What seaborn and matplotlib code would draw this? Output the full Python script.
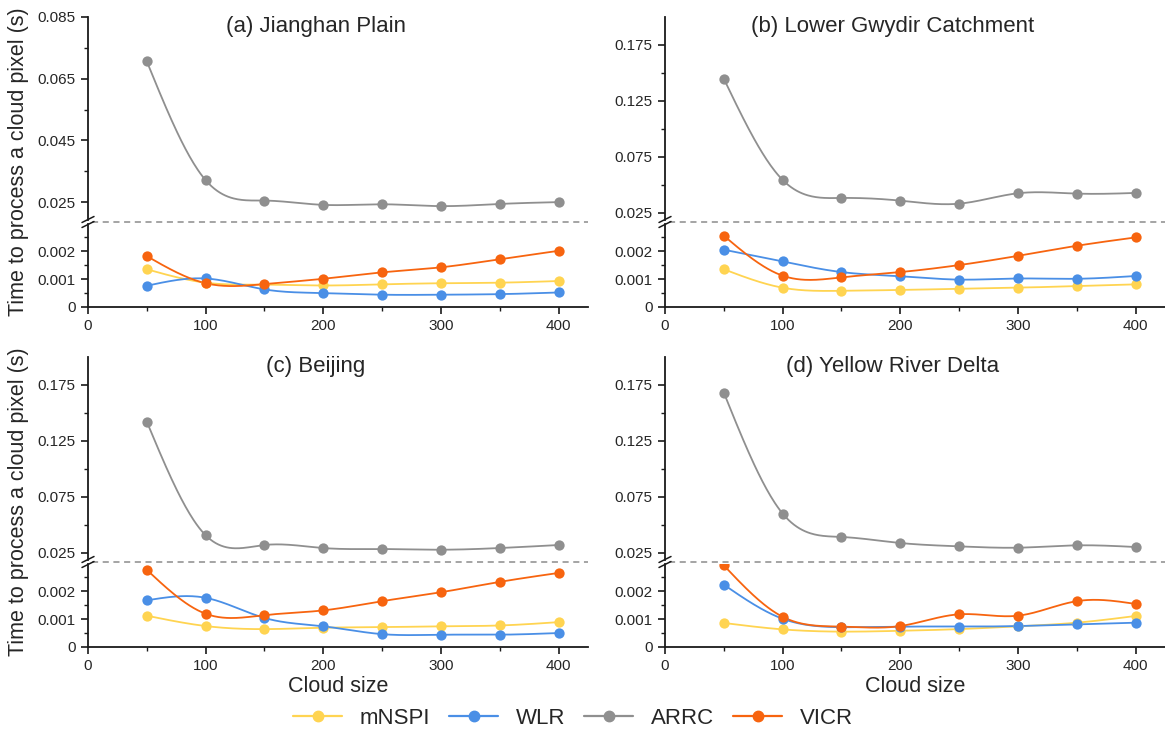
import numpy as np
import pandas as pd
import matplotlib
matplotlib.use("Agg")
import matplotlib.pyplot as plt
from matplotlib.lines import Line2D
import seaborn as sns

# ---------------- data ----------------
cloud_size = [50, 100, 150, 200, 250, 300, 350, 400]
methods = ["mNSPI", "WLR", "ARRC", "VICR"]
panel_titles = ["(a) Jianghan Plain", "(b) Lower Gwydir Catchment",
                "(c) Beijing", "(d) Yellow River Delta"]

# (a) Jianghan Plain
a_mnspi = [0.00135, 0.00087, 0.00080, 0.00077, 0.00081, 0.00085, 0.00087, 0.00093]
a_wlr = [0.00076, 0.00102, 0.00063, 0.00050, 0.00044, 0.00044, 0.00046, 0.00052]
a_arrc = [0.0706, 0.0321, 0.0255, 0.0241, 0.0243, 0.0237, 0.0244, 0.0250]
a_vicr = [0.00182, 0.00085, 0.00082, 0.00101, 0.00124, 0.00142, 0.00171, 0.00201]
# (b) Lower Gwydir Catchment
b_mnspi = [0.00135, 0.00069, 0.00058, 0.00061, 0.00065, 0.00069, 0.00075, 0.00081]
b_wlr = [0.00205, 0.00163, 0.00125, 0.00110, 0.00098, 0.00102, 0.00101, 0.00111]
b_arrc = [0.1448, 0.0543, 0.0382, 0.0358, 0.0331, 0.0424, 0.0421, 0.0427]
b_vicr = [0.00255, 0.00112, 0.00106, 0.00125, 0.00150, 0.00183, 0.00219, 0.00249]
# (c) Beijing
c_mnspi = [0.00112, 0.00075, 0.00064, 0.00069, 0.00071, 0.00074, 0.00077, 0.00089]
c_wlr = [0.00167, 0.00176, 0.00104, 0.00074, 0.00046, 0.00044, 0.00044, 0.00050]
c_arrc = [0.1421, 0.0406, 0.0319, 0.0292, 0.0283, 0.0277, 0.0292, 0.0319]
c_vicr = [0.00276, 0.00119, 0.00114, 0.00131, 0.00164, 0.00196, 0.00233, 0.00265]
# (d) Yellow River Delta
d_mnspi = [0.00086, 0.00063, 0.00055, 0.00058, 0.00064, 0.00074, 0.00087, 0.00111]
d_wlr = [0.00223, 0.00101, 0.00071, 0.00073, 0.00073, 0.00075, 0.00081, 0.00087]
d_arrc = [0.1681, 0.0600, 0.0391, 0.0337, 0.0307, 0.0295, 0.0316, 0.0301]
d_vicr = [0.00292, 0.00108, 0.00073, 0.00075, 0.00117, 0.00112, 0.00164, 0.00154]

panel_data = [
    [a_mnspi, a_wlr, a_arrc, a_vicr],
    [b_mnspi, b_wlr, b_arrc, b_vicr],
    [c_mnspi, c_wlr, c_arrc, c_vicr],
    [d_mnspi, d_wlr, d_arrc, d_vicr],
]

upper_ticks_a = [0.025, 0.045, 0.065, 0.085]
upper_ticks_bcd = [0.025, 0.075, 0.125, 0.175]
lower_ticks = [0, 0.001, 0.002]
lower_tick_labels = ["0", "0.001", "0.002"]
x_ticks = [0, 100, 200, 300, 400]

# ---------------- style ----------------
colors = {"mNSPI": "#FFD451", "WLR": "#4A8FE6", "ARRC": "#8F8F8F", "VICR": "#F7640F"}

sns.set_theme(style="ticks")
plt.rcParams["font.family"] = ["Liberation Sans", "DejaVu Sans"]
plt.rcParams["axes.linewidth"] = 1.3
plt.rcParams["axes.edgecolor"] = "#1a1a1a"

W, H = 1165, 738
fig = plt.figure(figsize=(W / 100, H / 100), dpi=100)


def spline(x, y, n=300):
    """Natural cubic spline (rendering of the smooth connecting line)."""
    x = np.asarray(x, float)
    y = np.asarray(y, float)
    nx = len(x)
    h = np.diff(x)
    A = np.zeros((nx, nx))
    b = np.zeros(nx)
    A[0, 0] = 1
    A[-1, -1] = 1
    for i in range(1, nx - 1):
        A[i, i - 1] = h[i - 1]
        A[i, i] = 2 * (h[i - 1] + h[i])
        A[i, i + 1] = h[i]
        b[i] = 3 * ((y[i + 1] - y[i]) / h[i] - (y[i] - y[i - 1]) / h[i - 1])
    c = np.linalg.solve(A, b)
    xs = np.linspace(x[0], x[-1], n)
    idx = np.clip(np.searchsorted(x, xs) - 1, 0, nx - 2)
    dx = xs - x[idx]
    bc = (y[1:] - y[:-1]) / h - h * (2 * c[:-1] + c[1:]) / 3
    dc = (c[1:] - c[:-1]) / (3 * h)
    ys = y[idx] + bc[idx] * dx + c[idx] * dx ** 2 + dc[idx] * dx ** 3
    return xs, ys


def fx(px):
    return px / W


def fy(py):
    return 1 - py / H


col_left = [88, 665]
ax_w = 500
rows = [  # (upper_top, upper_bottom, lower_top, lower_bottom) in px from top
    (17, 220, 224, 307),
    (357, 560, 564, 647),
]

for p in range(4):
    r, cidx = divmod(p, 2)
    ut, ub, lt, lb = rows[r]
    x0 = col_left[cidx]
    ax_up = fig.add_axes([fx(x0), fy(ub), fx(ax_w), (ub - ut) / H])
    ax_lo = fig.add_axes([fx(x0), fy(lb), fx(ax_w), (lb - lt) / H])

    for m, vals in zip(methods, panel_data[p]):
        xs, ys = spline(cloud_size, vals)
        for ax in (ax_up, ax_lo):
            sns.lineplot(x=xs, y=ys, ax=ax, color=colors[m], linewidth=1.3,
                         estimator=None, sort=False, legend=False)
            sns.scatterplot(x=cloud_size, y=vals, ax=ax, color=colors[m], s=55,
                            edgecolor=colors[m], linewidth=0, legend=False, zorder=3)

    for ax in (ax_up, ax_lo):
        ax.set_xlim(0, 425)
        ax.set_xlabel("")
        ax.set_ylabel("")
        ax.spines["top"].set_visible(False)
        ax.spines["right"].set_visible(False)
        ax.tick_params(axis="both", which="major", direction="out", length=5,
                       width=1.2, labelsize=11, pad=4, color="#1a1a1a")
        ax.tick_params(axis="both", which="minor", direction="out", length=3,
                       width=1.0, color="#1a1a1a")

    # upper axis
    if p == 0:
        ax_up.set_ylim(0.0192, 0.085)
        ax_up.set_yticks(upper_ticks_a)
        ax_up.set_yticklabels([f"{t:.3f}" for t in upper_ticks_a])
        ax_up.set_yticks([0.035, 0.055, 0.075], minor=True)
    else:
        ax_up.set_ylim(0.0185, 0.2)
        ax_up.set_yticks(upper_ticks_bcd)
        ax_up.set_yticklabels([f"{t:.3f}" for t in upper_ticks_bcd])
        ax_up.set_yticks([0.05, 0.1, 0.15], minor=True)
    ax_up.spines["bottom"].set_visible(False)
    ax_up.set_xticks([])
    ax_up.set_xticks([], minor=True)
    ax_up.text(0.456, 0.955, panel_titles[p], transform=ax_up.transAxes,
               ha="center", va="center", fontsize=16)

    # lower axis
    ax_lo.set_ylim(0, 0.00297)
    ax_lo.set_yticks(lower_ticks)
    ax_lo.set_yticklabels(lower_tick_labels)
    ax_lo.set_yticks([0.0005, 0.0015, 0.0025], minor=True)
    ax_lo.set_xticks(x_ticks)
    ax_lo.set_xticklabels([str(t) for t in x_ticks])
    ax_lo.set_xticks([50, 150, 250, 350], minor=True)
    ax_lo.tick_params(axis="x", which="major", pad=4)

    # dashed break line and break marks
    yb = (ub + lt) / 2
    fig.add_artist(Line2D([fx(x0 + 4), fx(x0 + ax_w)], [fy(yb), fy(yb)],
                          color="#8c8c8c", linewidth=1.1, linestyle=(0, (4, 3))))
    for yc in (ub - 0.5, lt + 0.5):
        fig.add_artist(Line2D([fx(x0 - 6), fx(x0 + 6)], [fy(yc + 3), fy(yc - 3)],
                              color="#1a1a1a", linewidth=1.1))

    if r == 1:
        fig.text(fx(x0 + ax_w / 2), fy(687), "Cloud size", ha="center",
                 va="center", fontsize=15.5)
    if cidx == 0:
        fig.text(fx(19), fy((ut + lb) / 2), "Time to process a cloud pixel (s)",
                 rotation=90, ha="center", va="center", fontsize=15.5)

handles = [Line2D([], [], color=colors[m], marker="o", markersize=7.5,
                  linewidth=1.6) for m in methods]
fig.legend(handles, methods, loc="center", bbox_to_anchor=(0.492, fy(718)),
           ncol=4, frameon=False, fontsize=16, handlelength=2.2,
           handletextpad=0.8, columnspacing=0.85, numpoints=1)

fig.savefig("out.png", dpi=100)
